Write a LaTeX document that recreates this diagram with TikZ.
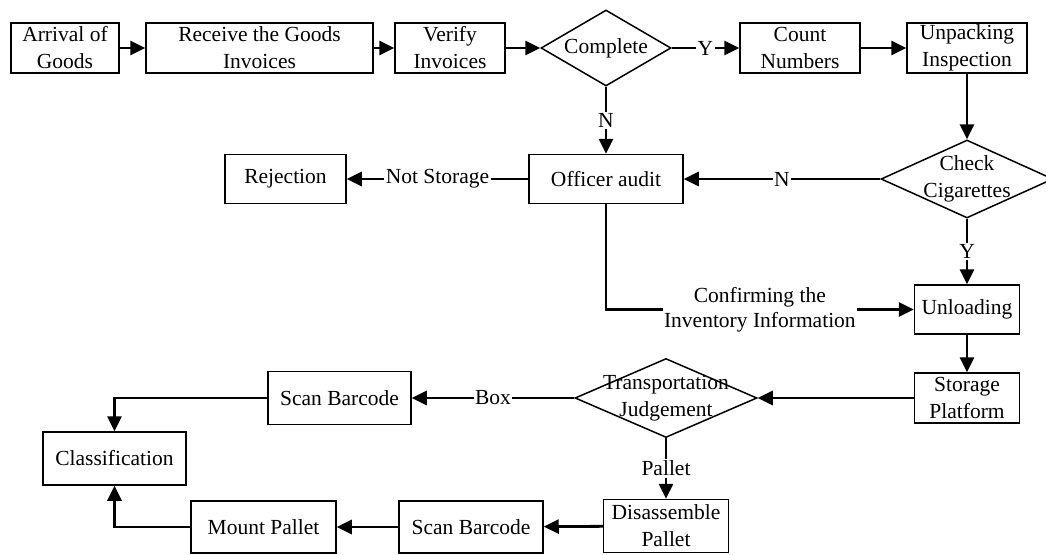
\documentclass[tikz,border=0pt]{standalone}
\usepackage{fontspec}
\setmainfont{Liberation Serif}
\usetikzlibrary{shapes.geometric,arrows.meta}
\newcommand\flowfont{\fontsize{21.5}{27}\selectfont}
\begin{document}
\begin{tikzpicture}[x=1pt,y=-1pt,
  box/.style={draw, line width=1.5pt, inner sep=0pt, align=center,
              minimum height=50pt, font=\flowfont},
  dia/.style={draw, diamond, line width=1.5pt, inner sep=0pt},
  diatext/.style={align=center, inner sep=0pt, font=\flowfont},
  conn/.style={line width=2.8pt, line join=miter,
               -{Triangle[length=15pt,width=14pt]}},
  lab/.style={fill=white, inner sep=1.5pt, align=center,
              font=\flowfont\fontsize{21.5}{25}\selectfont}]
\useasboundingbox (0,0) rectangle (1046,554);

% top row
\node[box, minimum width=108pt] (arr) at (65,48) {Arrival of\\Goods};
\node[box, minimum width=227pt] (recv) at (259.5,48) {Receive the Goods\\Invoices};
\node[box, minimum width=110pt] (ver) at (450,48) {Verify\\Invoices};
\node[dia, minimum width=130pt, minimum height=76pt] (comp) at (606,48) {};
\node[diatext] (compt) at (comp) {Complete};
\node[box, minimum width=120pt] (count) at (800,48) {Count\\Numbers};
\node[box, minimum width=120pt] (unpack) at (967,48) {Unpacking\\Inspection};

% audit row
\node[dia, minimum width=172pt, minimum height=78pt] (check) at (967,179) {};
\node[diatext] (checkt) at (check) {Check\\Cigarettes};
\node[box, minimum width=154pt, minimum height=49pt] (officer) at (606,179) {Officer audit};
\node[box, minimum width=121pt, minimum height=49pt] (reject) at (285.5,179) {Rejection};

% right column
\node[box, minimum width=105pt, minimum height=49pt] (unload) at (967,309.5) {Unloading};
\node[box, minimum width=105pt] (storage) at (967,398) {Storage\\Platform};

% transport branch
\node[dia, minimum width=182pt, minimum height=79pt] (trans) at (666,398) {};
\node[diatext] (transt) at (trans) {Transportation\\Judgement};
\node[box, minimum width=143pt, minimum height=53pt] (scana) at (339.5,398) {Scan Barcode};
\node[box, minimum width=143pt, minimum height=53pt] (class) at (114.5,458.5) {Classification};
\node[box, minimum width=125pt, minimum height=53pt] (dis) at (666,526) {Disassemble\\Pallet};
\node[box, minimum width=144pt, minimum height=52pt] (scanb) at (471,527) {Scan Barcode};
\node[box, minimum width=145pt, minimum height=52pt] (mount) at (263.5,527) {Mount Pallet};

% connectors
\draw[conn] (arr) -- (recv);
\draw[conn] (recv) -- (ver);
\draw[conn] (ver) -- (comp.west);
\draw[conn] (comp.east) -- node[lab] {Y} (count);
\draw[conn] (count) -- (unpack);
\draw[conn] (comp.south) -- node[lab] {N} (officer);
\draw[conn] (unpack) -- (check.north);
\draw[conn] (check.west) -- node[lab] {N} (officer);
\draw[conn] (officer) -- node[lab] {Not Storage} (reject);
\draw[conn] (check.south) -- node[lab] {Y} (unload);
\draw[conn] (officer.south) |- node[lab, pos=0.75] {Confirming the\\Inventory Information} (unload.west);
\draw[conn] (unload) -- (storage);
\draw[conn] (storage) -- (trans.east);
\draw[conn] (trans.west) -- node[lab] {Box} (scana);
\draw[conn] (scana.west) -| (class.north);
\draw[conn] (trans.south) -- node[lab] {Pallet} (dis);
\draw[conn] (dis) -- (scanb);
\draw[conn] (scanb) -- (mount);
\draw[conn] (mount.west) -| (class.south);
\end{tikzpicture}
\end{document}
